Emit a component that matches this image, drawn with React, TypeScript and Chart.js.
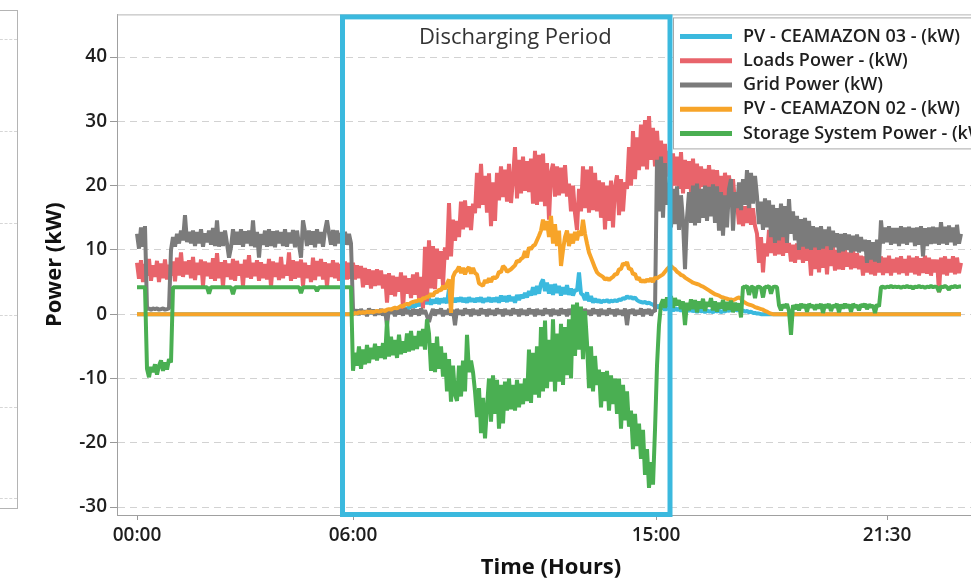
import React, { useEffect, useRef } from 'react';
import { Chart, registerables } from 'chart.js';

Chart.register(...registerables);

// ---- data: one sample per index step (00:00 = sample 0) ----
const pv03 = [
  0,0,0,0,0,0,0,0,0,0,0,0,0,0,0,0,0,0,0,0,
  0,0,0,0,0,0,0,0,0,0,0,0,0,0,0,0,0,0,0,0,
  0,0,0,0,0,0,0,0,0,0,0,0,0,0,0,0,0,0,0,0,
  0,0,0,0,0,0,0,0,0,0,0,0,0,0,0,0,0,0,0,0,
  0,0,0,0,0,0,0,0,0,0,0,0,0,0,0,0,0,0,0,0,
  0,0,0,0,0,0,0,0,0,0.1,0.1,0.1,0.2,0.2,0.2,0.2,0.3,0.3,0.3,0.3,
  0.3,0.4,0.4,0.4,0.5,0.5,0.5,0.5,0.6,0.6,0.6,0.7,0.7,0.8,0.8,0.9,1.0,1.2,1.4,1.1,
  1.8,1.3,2.0,1.5,2.2,1.6,2.4,1.5,2.3,1.7,2.5,1.6,2.4,1.8,2.5,1.7,3.9,2.0,2.5,1.9,
  2.5,2.0,2.6,1.9,2.5,1.8,2.6,2.0,2.4,1.9,2.5,2.0,2.6,1.8,2.4,2.0,2.6,1.9,2.5,2.0,
  2.6,1.8,2.9,2.0,2.8,1.9,2.9,2.1,2.7,1.8,3.0,2.2,3.0,2.5,3.3,2.6,3.6,2.9,4.2,3.0,
  4.4,3.2,4.8,5.4,3.6,4.9,3.2,4.6,3.0,4.7,3.3,4.4,2.9,4.2,3.1,4.5,3.0,4.0,2.9,3.8,
  3.6,6.5,3.2,3.0,2.2,3.4,2.0,2.8,1.8,2.4,1.9,2.2,1.8,2.1,2.0,2.2,1.9,2.1,2.0,2.2,
  2.0,2.3,2.2,2.5,2.4,2.8,2.5,2.7,2.4,2.6,2.2,2.0,1.9,1.8,1.9,1.7,1.8,1.6,1.5,1.2,
  1.0,1.4,0.8,1.3,0.6,1.2,0.7,1.1,0.5,1.0,0.6,0.9,0.5,0.9,0.4,0.8,0.5,0.8,0.4,0.7,
  0.3,0.7,0.4,0.6,0.3,0.6,0.4,0.5,0.3,0.6,0.4,0.6,0.3,0.5,0.4,0.7,0.5,0.8,0.6,0.7,
  0.6,0.7,0.5,0.6,0.4,0.5,0.3,0.4,0.2,0.2,0.1,0.1,0,0,0,0,0,0,0,0,
  0,0,0,0,0,0,0,0,0,0,0,0,0,0,0,0,0,0,0,0,
  0,0,0,0,0,0,0,0,0,0,0,0,0,0,0,0,0,0,0,0,
  0,0,0,0,0,0,0,0,0,0,0,0,0,0,0,0,0,0,0,0,
  0,0,0,0,0,0,0,0,0,0,0,0,0,0,0,0,0,0,0,0,
  0,0,0,0,0,0,0,0,0,0,0,0,0,
];

const loads = [
  8.0,5.5,8.4,5.0,7.8,6.0,8.6,5.2,7.6,5.8,8.3,5.0,7.9,5.6,8.5,5.4,7.7,6.0,8.2,5.1,
  8.8,6.0,9.6,5.8,8.2,6.2,8.4,5.6,8.9,5.3,8.0,6.1,8.5,4.4,8.2,5.9,8.0,5.5,8.7,5.2,
  9.5,5.6,8.1,4.3,8.4,5.8,7.9,5.4,8.6,5.2,8.3,6.0,7.8,4.4,8.5,5.7,9.2,5.5,8.0,5.9,
  8.4,5.2,8.1,5.6,7.8,5.4,8.6,4.3,8.2,5.8,8.0,5.3,8.9,5.6,7.7,6.0,9.6,5.2,8.4,5.5,
  8.2,5.7,8.5,4.4,8.0,5.6,7.6,5.0,8.8,5.3,8.3,5.9,8.6,5.4,8.1,4.3,7.9,5.8,8.4,5.6,
  8.0,5.2,7.8,5.6,8.2,5.4,8.0,5.5,8.0,5.4,7.6,5.6,7.5,4.2,7.2,4.6,7.0,4.0,6.8,4.4,
  7.0,4.5,6.8,4.0,6.2,1.8,6.4,3.0,6.0,2.8,5.8,3.5,6.5,0.8,6.0,3.2,5.6,2.5,6.2,3.0,
  6.5,2.4,5.8,0.9,10.5,2.0,11.5,4.0,10.6,3.9,10.2,5.5,9.8,4.5,10.4,8.5,17.3,9.0,14.7,11.4,
  14.5,12.0,17.5,13.2,17.7,13.5,16.8,13.1,17.2,15.7,22.0,16.5,23.4,17.0,21.5,15.8,21.9,13.7,20.5,14.5,
  22.0,17.7,23.0,18.2,22.5,17.5,23.4,17.3,21.0,26.0,18.0,24.0,18.8,24.5,19.2,23.8,19.0,24.2,17.2,25.4,
  17.0,24.8,17.5,25.0,16.8,23.5,14.7,22.0,23.4,18.3,23.0,18.5,22.8,18.8,23.2,18.3,20.3,16.0,20.0,15.7,
  13.1,19.5,16.0,23.0,16.5,22.5,15.8,23.0,16.2,22.0,16.0,20.8,15.0,20.5,13.2,20.0,14.5,20.8,13.5,19.8,
  21.6,15.4,21.0,16.0,20.5,19.5,26.0,20.0,28.5,21.0,27.5,22.4,29.5,23.0,30.2,22.5,30.8,24.0,29.0,23.0,
  28.5,23.4,27.0,22.0,26.5,21.4,25.4,19.0,25.0,20.0,24.5,19.5,25.2,18.8,24.0,19.5,23.8,19.0,24.2,19.2,
  23.4,19.3,23.0,19.8,22.6,19.4,23.2,19.5,22.5,18.8,22.4,18.5,21.5,17.3,22.0,17.8,21.6,17.5,21.0,17.3,
  17.3,14.0,17.0,13.7,16.8,14.2,17.3,13.9,16.5,13.7,12.5,8.0,12.0,6.5,11.0,9.0,13.1,9.5,12.8,9.1,
  13.0,9.3,12.6,9.1,12.2,9.6,11.1,8.2,10.8,8.0,11.0,8.5,10.6,8.0,11.1,8.3,10.5,6.0,11.0,7.0,
  11.1,6.5,10.5,7.2,10.8,6.2,11.0,7.5,10.6,6.8,10.0,7.0,9.8,6.9,10.0,7.4,9.6,7.0,10.0,7.2,
  9.5,7.0,9.1,6.0,9.0,6.5,8.8,6.2,9.1,6.0,8.7,6.5,9.0,6.1,8.8,6.4,9.1,6.0,8.6,6.5,
  8.8,6.2,9.0,6.4,8.6,6.0,9.1,6.5,8.8,6.2,9.0,6.0,8.7,6.4,9.1,6.3,8.8,6.0,8.5,6.5,
  8.5,3.4,8.8,6.2,9.0,6.0,8.6,6.5,9.0,6.2,8.8,6.4,8.0,
];

const gridPower = [
  12.5,10.2,13.5,10.5,13.7,0.8,0.9,0.7,0.9,0.8,0.9,0.7,0.8,0.9,0.7,0.8,0.9,10.0,12.0,10.5,
  12.5,11.0,13.0,11.5,15.4,11.2,12.8,11.0,13.0,10.6,12.8,11.0,13.2,10.5,12.6,11.2,13.0,10.8,13.4,10.6,
  14.6,10.5,12.8,10.6,13.0,11.0,8.8,10.4,13.2,10.8,12.8,10.8,13.2,10.5,12.9,11.0,13.0,10.6,14.6,10.4,
  12.8,8.8,12.5,10.8,13.0,10.5,13.2,10.6,12.9,10.4,13.0,11.0,12.8,10.6,13.2,10.5,12.7,11.0,13.1,10.4,
  13.0,10.8,8.8,14.6,12.8,10.6,13.0,10.8,12.9,10.4,13.2,11.0,12.8,10.5,13.0,14.6,12.6,10.8,13.1,10.6,
  13.0,11.0,12.6,11.2,12.8,10.8,12.5,11.0,0.8,0.2,0.7,-0.1,0.8,0.0,0.6,-0.3,0.9,0.1,0.7,-0.2,
  0.6,0.0,0.8,-0.2,0.7,-1.7,0.9,0.1,0.6,-0.3,0.8,0.0,0.7,-0.2,0.9,0.1,0.6,-0.3,0.8,0.0,
  0.7,-0.2,0.9,0.1,0.6,-0.3,-1.2,0.0,0.8,-0.2,0.7,0.1,0.9,-0.3,0.6,0.0,0.8,-0.2,0.7,-1.7,
  0.8,0.0,0.6,-0.2,0.9,0.1,0.7,-0.3,0.8,0.0,0.6,-0.2,0.9,0.1,0.7,-0.3,0.8,0.0,0.6,-0.2,
  0.9,0.1,0.7,-0.3,0.8,0.0,0.6,-0.2,0.9,0.1,0.7,-0.3,0.8,0.0,0.6,-0.2,0.9,0.1,0.7,-0.3,
  0.8,0.0,0.6,-0.2,0.9,0.1,0.7,-0.3,0.8,0.0,0.6,-0.2,0.9,0.1,0.7,-0.3,0.8,0.0,0.6,-0.2,
  0.9,0.1,0.7,-0.3,0.8,0.0,0.6,-0.2,0.9,0.1,0.7,-0.3,0.8,0.0,0.6,-0.2,0.9,0.1,0.7,-0.3,
  0.8,0.0,0.6,-0.2,0.9,-1.7,0.7,0.1,0.8,-0.2,0.6,0.0,0.9,-0.3,0.7,0.1,0.8,-0.2,0.6,0.4,
  24.0,16.0,24.5,15.0,23.5,17.0,20.0,13.5,19.5,14.0,19.9,13.1,18.5,14.5,7.0,15.0,19.0,14.2,20.0,13.8,
  20.3,14.2,19.5,15.0,20.0,14.5,19.8,15.2,20.2,14.2,19.9,13.0,19.0,12.2,18.5,13.5,19.5,21.0,13.0,19.0,
  16.5,20.5,16.2,21.0,17.0,22.4,16.5,22.0,17.2,21.5,18.3,14.0,17.5,13.1,18.0,13.5,17.7,12.0,17.0,11.1,
  16.5,11.5,17.2,12.0,16.8,11.1,17.9,12.5,16.0,11.5,15.3,10.0,14.8,10.5,15.0,10.2,14.5,10.0,13.7,10.4,
  13.5,10.0,13.7,10.2,13.2,10.6,13.6,10.0,13.0,10.4,12.6,9.6,12.5,9.8,12.6,10.0,12.4,9.6,12.2,9.8,
  12.4,9.6,12.0,9.8,11.6,8.0,11.5,8.5,11.2,8.2,11.6,8.0,14.6,11.0,13.5,11.2,13.7,10.8,13.4,11.0,
  13.4,10.6,13.7,11.0,13.5,10.8,13.6,11.2,13.4,10.6,13.5,10.8,13.7,9.0,13.4,10.6,13.5,10.9,13.6,11.0,
  13.5,10.8,14.3,11.0,13.6,10.8,13.8,11.2,13.5,10.7,13.9,11.0,12.5,
];

const pv02 = [
  0,0,0,0,0,0,0,0,0,0,0,0,0,0,0,0,0,0,0,0,
  0,0,0,0,0,0,0,0,0,0,0,0,0,0,0,0,0,0,0,0,
  0,0,0,0,0,0,0,0,0,0,0,0,0,0,0,0,0,0,0,0,
  0,0,0,0,0,0,0,0,0,0,0,0,0,0,0,0,0,0,0,0,
  0,0,0,0,0,0,0,0,0,0,0,0,0,0,0,0,0,0,0,0,
  0,0,0,0,0,0,0,0,0,0.2,0.1,0.3,0.2,0.3,0.2,0.4,0.3,0.4,0.3,0.4,
  0.5,0.4,0.5,0.6,0.5,0.7,0.8,0.7,0.9,1.0,0.9,1.1,1.3,1.2,1.5,1.6,1.5,1.8,1.9,2.0,
  2.0,2.3,2.0,2.5,2.5,2.7,2.7,3.2,2.8,3.5,3.4,3.8,3.7,4.4,3.9,4.8,5.4,0.2,5.8,6.5,
  6.8,7.4,6.4,7.2,6.2,7.0,7.3,6.3,7.2,6.4,6.2,4.8,4.6,4.4,5.3,4.9,5.6,5.0,5.8,5.6,
  5.8,6.6,6.5,7.5,7.2,6.6,6.8,7.0,7.3,7.6,8.3,8.2,8.6,8.8,9.8,8.8,10.4,10.1,10.6,10.8,
  11.5,12.2,13.0,14.7,13.1,14.5,12.0,15.3,11.0,14.0,10.6,13.0,7.5,10.0,12.0,13.0,10.6,12.5,11.0,12.8,
  11.5,13.0,12.2,14.7,12.5,11.0,9.6,8.8,8.0,7.2,6.5,6.2,6.0,5.8,5.4,5.6,5.3,5.6,5.8,6.2,
  6.2,7.0,7.0,7.9,7.7,8.1,7.0,7.1,6.2,6.3,5.4,5.7,5.0,5.3,5.0,5.4,5.1,5.6,5.0,5.7,
  5.6,5.8,6.0,6.2,6.6,7.0,7.3,7.5,7.2,7.0,6.6,6.4,6.1,6.0,5.7,5.5,5.3,5.1,4.9,4.8,
  4.7,4.6,4.4,4.3,4.1,3.9,3.7,3.5,3.3,3.1,3.0,2.9,2.7,2.6,2.5,2.4,2.3,2.3,2.2,2.3,
  2.5,2.6,2.4,2.0,1.8,1.6,1.5,1.4,1.3,1.1,1.0,0.9,0.8,0.7,0.5,0.4,0.2,0.1,0,0,
  0,0,0,0,0,0,0,0,0,0,0,0,0,0,0,0,0,0,0,0,
  0,0,0,0,0,0,0,0,0,0,0,0,0,0,0,0,0,0,0,0,
  0,0,0,0,0,0,0,0,0,0,0,0,0,0,0,0,0,0,0,0,
  0,0,0,0,0,0,0,0,0,0,0,0,0,0,0,0,0,0,0,0,
  0,0,0,0,0,0,0,0,0,0,0,0,0,
];

const storage = [
  4.2,4.2,4.2,4.2,4.2,-8.5,-9.8,-8.2,-9.0,-7.8,-9.4,-8.0,-7.2,-8.8,-7.5,-8.6,-7.0,-7.5,4.2,4.2,
  4.2,4.2,4.2,4.2,4.2,4.2,4.2,4.2,4.2,4.2,4.2,4.2,4.2,4.2,4.2,4.2,3.2,4.2,4.2,4.2,
  4.2,4.2,4.2,4.2,4.2,4.2,4.2,4.2,3.1,4.2,4.2,4.2,4.2,4.2,4.2,4.2,4.2,4.2,4.2,4.2,
  4.2,4.2,4.2,4.2,4.2,4.2,4.2,4.2,4.2,4.2,4.2,4.2,4.2,4.2,4.2,4.2,4.2,4.2,4.2,4.2,
  4.2,4.2,3.3,4.2,4.2,4.2,4.2,4.2,4.2,4.2,3.6,4.2,4.2,4.2,4.2,4.2,4.2,4.2,4.2,4.2,
  4.2,4.2,4.2,4.2,4.2,4.2,4.2,4.2,-8.8,-6.0,-8.0,-5.0,-8.5,-5.5,-7.8,-4.8,-7.6,-5.2,-7.0,-4.6,
  -7.2,-5.0,-6.8,-4.5,-7.0,-1.0,-6.6,-3.5,-6.4,-4.0,-6.8,-3.2,-6.2,-4.2,-6.0,-3.0,-5.8,-2.6,-5.6,-3.4,
  -5.4,-2.6,-5.0,-2.3,-5.5,-0.8,-3.0,-8.8,-4.5,-9.0,-3.5,-8.5,-5.0,-9.7,-6.0,-12.0,-7.0,-13.6,-8.0,-12.5,
  -13.5,-8.0,-12.8,-7.2,-12.0,-3.2,-9.0,-7.2,-9.0,-12.0,-16.0,-11.5,-18.5,-13.0,-19.3,-14.5,-10.0,-16.7,-9.5,-15.5,
  -10.2,-17.8,-11.0,-17.0,-10.5,-15.0,-10.0,-14.8,-11.0,-15.0,-10.2,-14.5,-10.8,-14.0,-10.0,-13.5,-5.5,-13.8,-6.0,-12.5,
  -5.0,-13.0,-2.0,-12.0,-1.0,-11.5,-4.0,-10.5,-0.8,-12.0,-3.0,-10.5,-1.5,-11.0,-2.0,-9.5,-0.8,-10.0,1.5,-6.5,
  1.8,-5.5,1.2,-7.0,0.5,-4.5,-11.5,-5.0,-12.0,-6.5,-11.0,-8.6,-14.5,-9.0,-13.5,-8.8,-15.0,-9.5,-14.0,-10.0,
  -15.5,-10.0,-17.8,-11.0,-16.5,-12.0,-17.5,-15.0,-21.0,-15.5,-20.5,-17.0,-22.5,-18.0,-25.0,-21.0,-27.0,-23.0,-26.5,-18.0,
  -8.0,-1.7,1.5,2.3,1.0,2.6,1.2,2.8,1.0,2.5,1.4,2.2,0.8,2.0,-1.7,1.8,0.6,2.3,0.8,2.2,
  0.3,2.0,0.9,2.4,0.5,1.9,1.2,2.5,0.6,2.0,0.4,1.8,0.9,2.2,0.5,1.9,0.7,2.1,0.3,1.8,
  0.6,1.7,-0.5,4.3,4.2,4.4,3.0,4.2,4.3,2.5,4.2,4.3,4.1,2.6,4.3,4.2,4.4,3.2,4.2,4.3,
  4.2,1.4,0.6,1.5,1.0,1.6,0.5,-3.2,1.4,0.8,1.5,0.6,1.6,1.0,1.5,0.4,1.6,1.1,1.4,0.7,
  1.5,0.9,1.6,0.2,1.5,1.0,1.6,0.5,1.4,1.1,1.6,0.3,1.5,0.9,1.6,1.0,1.5,0.4,1.6,1.1,
  1.4,0.6,1.5,1.2,1.6,0.8,1.5,1.1,1.4,0.2,1.5,1.2,4.2,4.3,4.1,4.3,4.2,4.4,4.2,4.3,
  4.2,4.3,4.1,4.3,4.2,4.4,4.2,4.3,4.0,4.3,4.2,4.4,4.2,4.3,4.1,4.3,4.2,4.4,4.2,4.3,
  4.2,3.5,4.3,4.2,4.4,4.2,3.8,4.3,4.2,4.4,4.2,4.3,4.3,
];

const seriesNames = [
  'PV - CEAMAZON 03 - (kW)',
  'Loads Power - (kW)',
  'Grid Power (kW)',
  'PV - CEAMAZON 02 - (kW)',
  'Storage System Power - (kW)',
];
const seriesColors = ['#3bb9de', '#e8646b', '#7b7b7b', '#f7a429', '#4aaf52'];

const xTickLabels = ['00:00', '06:00', '15:00', '21:30'];
const xTickSamples = [0, 108, 259.5, 375];
const yTickValues = [-30, -20, -10, 0, 10, 20, 30, 40];
const dischargeWindow = [102.75, 266.5];
const dischargeLabel = 'Discharging Period';

const TICK_FONT = { family: "'Open Sans', sans-serif", size: 19, weight: '600' as const };
const TITLE_FONT = { family: "'Open Sans', sans-serif", size: 22, weight: 'bold' as const };

export default function App() {
  const canvasRef = useRef<HTMLCanvasElement | null>(null);

  useEffect(() => {
    const canvas = canvasRef.current;
    if (!canvas) return;
    const series = [pv03, loads, gridPower, pv02, storage];

    const decor = {
      id: 'decor',
      beforeDatasetsDraw(chart: any) {
        const { ctx, chartArea } = chart;
        ctx.save();
        ctx.strokeStyle = '#b4b4b4';
        ctx.lineWidth = 1;
        ctx.beginPath();
        ctx.moveTo(chartArea.left, chartArea.top + 0.5);
        ctx.lineTo(chartArea.right, chartArea.top + 0.5);
        ctx.stroke();
        ctx.restore();
      },
      afterDatasetsDraw(chart: any) {
        const { ctx, chartArea } = chart;
        const xs = chart.scales.x;
        const x1 = xs.getPixelForValue(dischargeWindow[0]);
        const x2 = xs.getPixelForValue(dischargeWindow[1]);
        const y1 = chartArea.top + 2.5;
        const y2 = chartArea.bottom - 0.5;
        ctx.save();
        ctx.strokeStyle = '#3bb9de';
        ctx.lineWidth = 5;
        ctx.strokeRect(x1, y1, x2 - x1, y2 - y1);
        ctx.fillStyle = '#333';
        ctx.font = "400 22px 'Open Sans', sans-serif";
        ctx.textAlign = 'center';
        ctx.textBaseline = 'middle';
        ctx.fillText(dischargeLabel, (x1 + x2) / 2 + 9, chartArea.top + 23);

        // legend box
        const lx = chartArea.left + 556;
        const ly = chartArea.top + 3;
        ctx.fillStyle = '#ffffff';
        ctx.fillRect(lx, ly, 420, 131);
        ctx.strokeStyle = '#a8a8a8';
        ctx.lineWidth = 1;
        ctx.strokeRect(lx + 0.5, ly + 0.5, 420, 131);
        ctx.font = "600 18px 'Open Sans', sans-serif";
        ctx.textAlign = 'left';
        ctx.textBaseline = 'middle';
        chart.data.datasets.forEach((ds: any, k: number) => {
          const ry = ly + 19 + k * 24.3;
          ctx.strokeStyle = ds.borderColor;
          ctx.lineWidth = 5;
          ctx.beginPath();
          ctx.moveTo(lx + 7, ry);
          ctx.lineTo(lx + 59, ry);
          ctx.stroke();
          ctx.fillStyle = '#1e1e1e';
          ctx.fillText(ds.label, lx + 70, ry);
        });
        ctx.restore();
      },
    };

    const chart = new Chart(canvas, {
      type: 'line',
      data: {
        datasets: series.map((s, k) => ({
          label: seriesNames[k],
          data: s.map((v, i) => ({ x: i, y: v })),
          borderColor: seriesColors[k],
          backgroundColor: seriesColors[k],
          borderWidth: 4,
          pointRadius: 0,
          tension: 0,
          fill: false,
          borderJoinStyle: 'bevel' as const,
          order: series.length - 1 - k,
        })),
      },
      options: {
        animation: false,
        responsive: false,
        devicePixelRatio: 1,
        layout: { padding: { left: 0, top: 10, right: 15, bottom: 0 } },
        plugins: { legend: { display: false }, tooltip: { enabled: false } },
        scales: {
          x: {
            type: 'linear',
            min: -10,
            max: 424,
            afterBuildTicks: (s: any) => {
              s.ticks = xTickSamples.map((v) => ({ value: v }));
            },
            afterFit: (s: any) => {
              s.height = 67;
            },
            ticks: {
              autoSkip: false,
              maxRotation: 0,
              padding: 4,
              color: '#1e1e1e',
              font: TICK_FONT,
              callback: (_v: any, i: number) => xTickLabels[i],
            },
            grid: { drawOnChartArea: false, tickLength: 5, tickColor: '#999', color: '#999' },
            border: { color: '#a0a0a0' },
            title: {
              display: true,
              text: 'Time (Hours)',
              color: '#111',
              font: TITLE_FONT,
              padding: { top: 0, bottom: 1 },
            },
          },
          y: {
            type: 'linear',
            min: -31.23,
            max: 46.63,
            afterBuildTicks: (s: any) => {
              s.ticks = yTickValues.map((v) => ({ value: v }));
            },
            afterFit: (s: any) => {
              s.width = 117;
            },
            ticks: { padding: 3, color: '#1e1e1e', font: TICK_FONT },
            grid: { color: '#d2d2d2', tickColor: '#999', tickLength: 7 },
            border: { color: '#a0a0a0', dash: [7, 5] },
            title: {
              display: true,
              text: 'Power (kW)',
              color: '#111',
              font: TITLE_FONT,
              padding: { top: 42, bottom: 0 },
            },
          },
        },
      },
      plugins: [decor],
    });
    return () => chart.destroy();
  }, []);

  const panelLines = [28, 120, 212, 304, 396, 487];
  return (
    <div style={{ position: 'fixed', left: 0, top: 0, width: 971, height: 582, overflow: 'hidden', background: '#fff' }}>
      <div style={{ position: 'absolute', left: -20, top: 10, width: 36, height: 497, border: '1px solid #b4b4b4' }}>
        {panelLines.map((t) => (
          <div key={t} style={{ position: 'absolute', left: 0, right: 0, top: t, borderTop: '1px dashed #d6d6d6' }} />
        ))}
      </div>
      <canvas ref={canvasRef} width={1000} height={582} style={{ position: 'absolute', left: 0, top: 0 }} />
    </div>
  );
}
